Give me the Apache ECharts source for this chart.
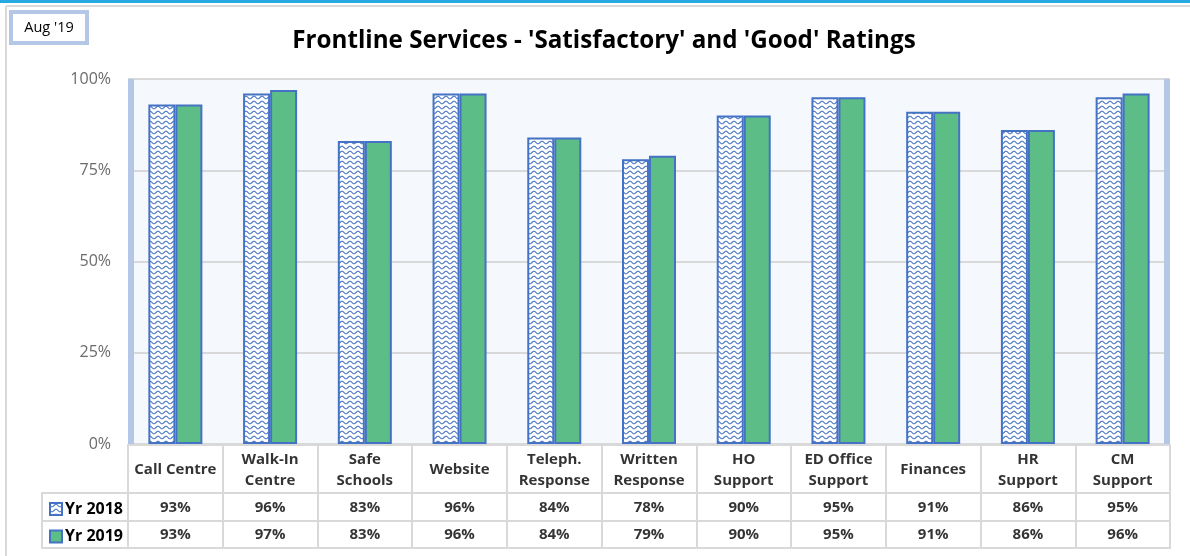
<!DOCTYPE html>
<html>
<head>
<meta charset="utf-8">
<title>Frontline Services Ratings</title>
<script src="https://cdn.jsdelivr.net/npm/echarts@6/dist/echarts.min.js"></script>
<style>
  html, body { margin: 0; padding: 0; background: #ffffff; }
  #chart { width: 1190px; height: 556px; }
</style>
</head>
<body>
<div id="chart"></div>
<script>
// Service areas and their 'Satisfactory' + 'Good' rating shares (%)
const categories = [
  'Call Centre', 'Walk-In\nCentre', 'Safe\nSchools', 'Website', 'Teleph.\nResponse',
  'Written\nResponse', 'HO\nSupport', 'ED Office\nSupport', 'Finances', 'HR\nSupport', 'CM\nSupport'
];
const seriesNames = ['Yr 2018', 'Yr 2019'];
const yr2018 = [93, 96, 83, 96, 84, 78, 90, 95, 91, 86, 95];
const yr2019 = [93, 97, 83, 96, 84, 79, 90, 95, 91, 86, 96];
const yTicks = [0, 25, 50, 75, 100];

const FONT = '"Open Sans", Lato, "DejaVu Sans", sans-serif';
const BLUE = '#4472c4';
const GREEN = '#5cbd86';
const CELL_LINE = '#d9d9d9';

// Wavy-line fill used for the 2018 bars
function wavePattern() {
  const c = document.createElement('canvas');
  c.width = 8; c.height = 5;
  const g = c.getContext('2d');
  g.fillStyle = '#ffffff';
  g.fillRect(0, 0, 8, 5);
  g.strokeStyle = BLUE;
  g.lineWidth = 1.1;
  g.beginPath();
  for (let x = 0; x <= 8; x += 0.5) {
    const y = 2.5 + 1.3 * Math.sin((x / 8) * Math.PI * 2);
    if (x === 0) g.moveTo(x, y); else g.lineTo(x, y);
  }
  g.stroke();
  return { image: c, repeat: 'repeat' };
}
const pattern2018 = wavePattern();

const PLOT_LEFT = 128, PLOT_RIGHT = 20;
const rows = [
  { top: 445, height: 48 },  // category header
  { top: 493, height: 28 },  // Yr 2018 values
  { top: 521, height: 27 }   // Yr 2019 values
];

const tableGrids = rows.map(r => ({
  left: PLOT_LEFT, right: PLOT_RIGHT, top: r.top, height: r.height,
  show: true, borderColor: CELL_LINE, borderWidth: 2, backgroundColor: '#ffffff'
}));

// table axes: x axes 1..3, y axes 2..4 (y axis 1 is the right wall of the plot)
const tableXAxes = rows.map((r, i) => ({
  type: 'category', gridIndex: i + 1, data: categories,
  axisLine: { show: false }, axisTick: { show: false }, axisLabel: { show: false },
  splitLine: { show: true, lineStyle: { color: CELL_LINE, width: 2 } }
}));
const tableYAxes = rows.map((r, i) => ({
  type: 'value', gridIndex: i + 1, min: 0, max: 1, show: false
}));

const cellText = {
  show: true, position: 'inside', color: '#000000',
  fontFamily: FONT, fontWeight: 'bold', fontSize: 15, lineHeight: 21
};
function tableRow(row, texts) {
  return {
    type: 'scatter', xAxisIndex: row + 1, yAxisIndex: row + 2,
    symbolSize: 1, itemStyle: { color: 'rgba(0,0,0,0)' }, silent: true, z: 5,
    data: texts.map((t, i) => ({ value: [i, 0.48], label: { formatter: t } })),
    label: cellText
  };
}

const wallLine = { show: true, onZero: false, lineStyle: { color: '#b4c7e7', width: 6, cap: 'butt' } };

const option = {
  animation: false,
  backgroundColor: '#ffffff',
  title: {
    text: "Frontline Services - 'Satisfactory' and 'Good' Ratings",
    left: 599, top: 24, textAlign: 'center',
    textStyle: { fontFamily: FONT, fontWeight: 'bold', fontSize: 24.2, color: '#000000' }
  },
  legend: seriesNames.map((n, i) => ({
    data: [n], left: 44, top: rows[i + 1].top + (rows[i + 1].height - 14) / 2 - 4,
    orient: 'vertical', icon: 'rect', itemWidth: 12, itemHeight: 12, itemGap: 0,
    selectedMode: false,
    textStyle: { fontFamily: FONT, fontWeight: 'bold', fontSize: 16, color: '#000000', padding: [0, 0, 0, -2] }
  })),
  grid: [
    { left: PLOT_LEFT, right: PLOT_RIGHT, top: 79, bottom: 112, show: true,
      backgroundColor: '#f5f8fc', borderWidth: 0 }
  ].concat(tableGrids),
  xAxis: [
    { type: 'category', gridIndex: 0, data: categories,
      axisLine: { show: false }, axisTick: { show: false }, axisLabel: { show: false } }
  ].concat(tableXAxes),
  yAxis: [
    { type: 'value', gridIndex: 0, min: yTicks[0], max: yTicks[yTicks.length - 1], interval: 25,
      offset: -3, axisLine: wallLine, axisTick: { show: false },
      axisLabel: { formatter: v => v + '%', color: '#6b6b6b', fontFamily: FONT, fontSize: 16, margin: 20 },
      splitLine: { show: true, lineStyle: { color: '#d9d9d9', width: 2 } } },
    { type: 'value', gridIndex: 0, position: 'right', min: 0, max: 100, interval: 25,
      offset: -3, axisLine: wallLine,
      axisTick: { show: false }, axisLabel: { show: false }, splitLine: { show: false } }
  ].concat(tableYAxes),
  series: [
    { name: seriesNames[0], type: 'bar', xAxisIndex: 0, yAxisIndex: 0, data: yr2018,
      barGap: '0%', barCategoryGap: '43%',
      itemStyle: { color: pattern2018, borderColor: BLUE, borderWidth: 2 } },
    { name: seriesNames[1], type: 'bar', xAxisIndex: 0, yAxisIndex: 0, data: yr2019,
      barGap: '0%', barCategoryGap: '43%',
      itemStyle: { color: GREEN, borderColor: BLUE, borderWidth: 2 } },
    tableRow(0, categories),
    tableRow(1, yr2018.map(v => v + '%')),
    tableRow(2, yr2019.map(v => v + '%'))
  ],
  graphic: [
    // window accent strip and outer frame
    { type: 'rect', shape: { x: 0, y: 0, width: 1190, height: 3 }, style: { fill: '#29a9e1' }, silent: true },
    { type: 'line', shape: { x1: 6, y1: 6, x2: 1190, y2: 6 }, style: { stroke: '#d9d9d9', lineWidth: 2 }, silent: true },
    { type: 'line', shape: { x1: 6, y1: 6, x2: 6, y2: 556 }, style: { stroke: '#d9d9d9', lineWidth: 2 }, silent: true },
    // date badge
    { type: 'rect', shape: { x: 11, y: 12, width: 76, height: 31 },
      style: { fill: '#ffffff', stroke: '#b4c7e7', lineWidth: 4 }, silent: true },
    { type: 'text', x: 49, y: 28,
      style: { text: "Aug '19", fontFamily: FONT, fontSize: 14.5, fill: '#000000', align: 'center', verticalAlign: 'middle' },
      silent: true },
    // legend cells of the data table
    { type: 'rect', shape: { x: 42, y: rows[1].top, width: PLOT_LEFT - 42, height: rows[1].height },
      style: { fill: 'none', stroke: CELL_LINE, lineWidth: 2 }, silent: true, z: 0 },
    { type: 'rect', shape: { x: 42, y: rows[2].top, width: PLOT_LEFT - 42, height: rows[2].height },
      style: { fill: 'none', stroke: CELL_LINE, lineWidth: 2 }, silent: true, z: 0 }
  ]
};

const chart = echarts.init(document.getElementById('chart'), null, { renderer: 'canvas' });
chart.setOption(option);
</script>
</body>
</html>
